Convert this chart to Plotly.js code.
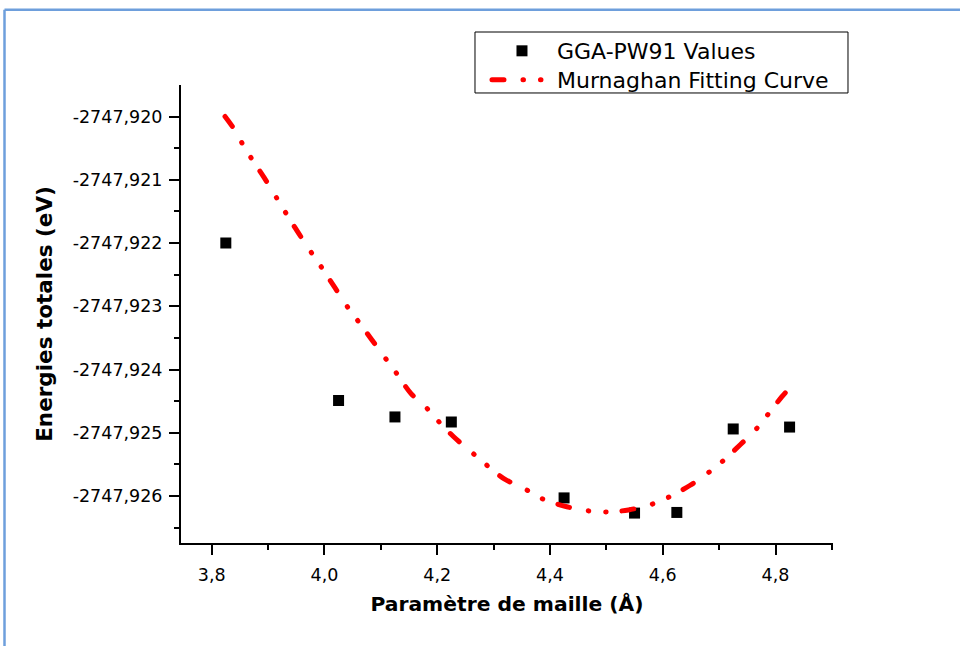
<!DOCTYPE html>
<html>
<head>
<meta charset="utf-8">
<script src="https://cdn.plot.ly/plotly-3.0.1.min.js"></script>
<style>
  html, body { margin: 0; padding: 0; background: #ffffff; }
  #chart { width: 960px; height: 646px; }
  .scatterlayer path.js-line, .infolayer path.js-line { stroke-linecap: round !important; }
</style>
</head>
<body>
<div id="chart"></div>
<script>
// ---- data ----
const latticeA = [3.825, 4.025, 4.125, 4.225, 4.425, 4.55, 4.625, 4.725, 4.825];
const energyGGA = [-2747.92200, -2747.92449, -2747.92475, -2747.92483, -2747.92603,
                   -2747.92627, -2747.92626, -2747.92494, -2747.92491];

const fitA = [3.8236, 3.8413, 3.8550, 3.8710, 3.8933, 3.9153, 3.9318, 3.9537, 3.9774, 3.9952,
              4.0188, 4.0424, 4.0601, 4.0839, 4.1087, 4.1270, 4.1536, 4.1802, 4.1992, 4.2287,
              4.2613, 4.2849, 4.3174, 4.3577, 4.3855, 4.4299, 4.4730, 4.5055, 4.5392, 4.5807,
              4.6102, 4.6487, 4.6811, 4.7049, 4.7374, 4.7670, 4.7858, 4.8114, 4.8202];
const fitE = [-2747.92000, -2747.92022, -2747.92044, -2747.92067, -2747.92097, -2747.92129,
              -2747.92153, -2747.92184, -2747.92216, -2747.92239, -2747.92271, -2747.92303,
              -2747.92324, -2747.92353, -2747.92383, -2747.92405, -2747.92438, -2747.92460,
              -2747.92479, -2747.92506, -2747.92531, -2747.92549, -2747.92572, -2747.92590,
              -2747.92604, -2747.92617, -2747.92624, -2747.92625, -2747.92622, -2747.92613,
              -2747.92602, -2747.92583, -2747.92563, -2747.92546, -2747.92519, -2747.92493,
              -2747.92472, -2747.92443, -2747.92434];

const seriesNames = ['GGA-PW91 Values', 'Murnaghan Fitting Curve'];

const xTickVals = [3.8, 4.0, 4.2, 4.4, 4.6, 4.8];
const xTickText = ['3,8', '4,0', '4,2', '4,4', '4,6', '4,8'];
const xMinorVals = [3.9, 4.1, 4.3, 4.5, 4.7, 4.9];

const yTickVals = [-2747.920, -2747.921, -2747.922, -2747.923, -2747.924, -2747.925, -2747.926];
const yTickText = ['-2747,920', '-2747,921', '-2747,922', '-2747,923', '-2747,924', '-2747,925', '-2747,926'];
const yMinorVals = [-2747.9205, -2747.9215, -2747.9225, -2747.9235, -2747.9245, -2747.9255, -2747.9265];

const xTitle = 'Paramètre de maille (Å)';
const yTitle = 'Energies totales (eV)';

// ---- chart ----
const tickFont = { family: 'DejaVu Sans', size: 17.5, color: '#000000' };
const legendFont = { family: 'DejaVu Sans', size: 22, color: '#000000' };
const fitDash = '12px,19px,0.5px,17px,0.5px,16px';

const traces = [
  {
    x: latticeA, y: energyGGA, name: seriesNames[0], legend: 'legend',
    type: 'scatter', mode: 'markers',
    marker: { symbol: 'square', size: 11, color: '#000000' }
  },
  {
    x: fitA, y: fitE, name: seriesNames[1], legend: 'legend2',
    type: 'scatter', mode: 'lines',
    line: { color: '#ff0000', width: 5, shape: 'spline', dash: fitDash }
  }
];

const layout = {
  width: 960, height: 646,
  margin: { l: 181, r: 127, t: 85, b: 103 },
  paper_bgcolor: '#ffffff', plot_bgcolor: '#ffffff',
  showlegend: true,
  legend: {
    x: 0.4693, y: 1.0742, xanchor: 'left', yanchor: 'middle',
    borderwidth: 0, bgcolor: 'rgba(0,0,0,0)',
    font: legendFont, itemwidth: 60
  },
  legend2: {
    x: 0.4693, y: 1.0108, xanchor: 'left', yanchor: 'middle',
    borderwidth: 0, bgcolor: 'rgba(0,0,0,0)',
    font: legendFont, itemwidth: 60
  },
  xaxis: {
    range: [3.7455, 4.902],
    showline: true, linecolor: '#000000', linewidth: 2,
    showgrid: false, zeroline: false, mirror: false,
    ticks: 'outside', ticklen: 10, tickwidth: 2, tickcolor: '#000000',
    tickvals: xTickVals, ticktext: xTickText, tickfont: tickFont,
    ticklabelstandoff: 5,
    minor: { tickvals: xMinorVals, ticks: 'outside', ticklen: 5, tickwidth: 2, tickcolor: '#000000', showgrid: false },
    title: { text: xTitle, font: { family: 'DejaVu Sans', size: 20.3, color: '#000000', weight: 'bold' }, standoff: 13 }
  },
  yaxis: {
    range: [-2747.926743, -2747.919502],
    showline: true, linecolor: '#000000', linewidth: 2,
    showgrid: false, zeroline: false, mirror: false,
    ticks: 'outside', ticklen: 10, tickwidth: 2, tickcolor: '#000000',
    tickvals: yTickVals, ticktext: yTickText, tickfont: tickFont,
    ticklabelstandoff: 3,
    minor: { tickvals: yMinorVals, ticks: 'outside', ticklen: 5, tickwidth: 2, tickcolor: '#000000', showgrid: false },
    title: { text: yTitle, font: { family: 'DejaVu Sans', size: 21.5, color: '#000000', weight: 'bold' }, standoff: 14 }
  },
  shapes: [
    { type: 'line', xref: 'paper', yref: 'paper', x0: -0.2707, x1: -0.2707, y0: -0.25, y1: 1.1645,
      line: { color: '#6e9fdc', width: 2.5 } },
    { type: 'line', xref: 'paper', yref: 'paper', x0: -0.2707, x1: 1.21, y0: 1.1645, y1: 1.1645,
      line: { color: '#6e9fdc', width: 2.5 } },
    { type: 'rect', xref: 'paper', yref: 'paper', x0: 0.4509, x1: 1.0230, y0: 0.9826, y1: 1.1157,
      line: { color: '#000000', width: 1 }, fillcolor: 'rgba(0,0,0,0)', layer: 'below' }
  ]
};

Plotly.newPlot('chart', traces, layout, { displayModeBar: false, staticPlot: true });
</script>
</body>
</html>
